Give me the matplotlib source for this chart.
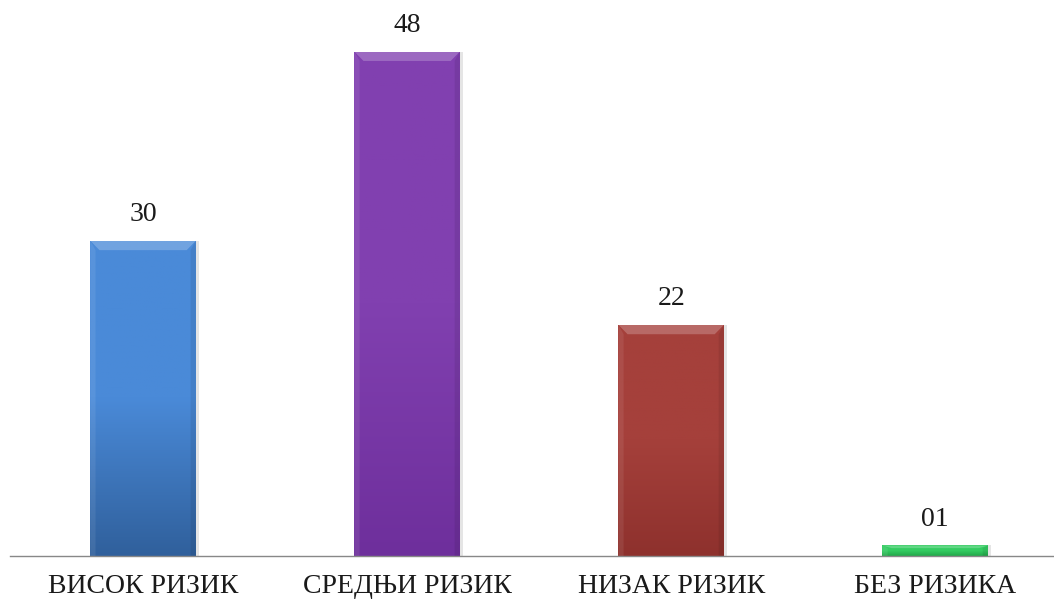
import numpy as np
import matplotlib.pyplot as plt
from matplotlib.colors import LinearSegmentedColormap

categories = ["ВИСОК РИЗИК", "СРЕДЊИ РИЗИК", "НИЗАК РИЗИК", "БЕЗ РИЗИКА"]
values = [30, 48, 22, 1]
value_labels = ["30", "48", "22", "01"]

# light / dark shade of each bar for the vertical gradient
light = ["#4a8ad8", "#8140b0", "#a5403b", "#34cc62"]
dark = ["#30609c", "#6e2f9c", "#8e312d", "#22a84a"]

plt.rcParams["font.family"] = ["Liberation Serif", "DejaVu Serif"]

fig = plt.figure(figsize=(10.54, 5.99), dpi=100)
ax = fig.add_axes([10 / 1054, 43 / 599, 1 - 10 / 1054, 1 - 43 / 599])

x = np.arange(len(categories))
width = 0.40
bars = ax.bar(x, values, width=width, color=light, edgecolor="none", zorder=2)

ax.set_xlim(-0.504, 3.45)
ax.set_ylim(0, 52.9)

# gradient fill clipped to each bar, plus a lighter bevel on top
grad = np.linspace(0, 1, 256).reshape(-1, 1)
for b, c1, c2 in zip(bars, light, dark):
    cmap = LinearSegmentedColormap.from_list("g", [c2, c1, c1])
    x0, y0 = b.get_x(), b.get_y()
    w, h = b.get_width(), b.get_height()
    im = ax.imshow(grad, extent=[x0, x0 + w, y0, y0 + h], origin="lower",
                   cmap=cmap, aspect="auto", zorder=3)
    im.set_clip_path(b)
    # soft shadow to the right
    ax.bar(x0 + w / 2 + 0.012, h, width=w, bottom=0, color="#000000",
           alpha=0.10, zorder=1, edgecolor="none")
    bevel = min(0.9, h * 0.25)
    ax.fill([x0, x0 + w, x0 + w - 0.035, x0 + 0.035],
            [y0 + h, y0 + h, y0 + h - bevel, y0 + h - bevel],
            color="white", alpha=0.22, zorder=4, lw=0)
    ax.fill([x0, x0 + 0.02, x0 + 0.02, x0],
            [y0, y0, y0 + h - bevel, y0 + h],
            color="white", alpha=0.08, zorder=4, lw=0)
    ax.fill([x0 + w, x0 + w - 0.02, x0 + w - 0.02, x0 + w],
            [y0, y0, y0 + h - bevel, y0 + h],
            color="black", alpha=0.08, zorder=4, lw=0)

for xi, v, lab in zip(x, values, value_labels):
    ax.text(xi, v + 1.3, lab, ha="center", va="bottom", fontsize=20,
            color="#1a1a1a")

ax.set_xticks(x)
ax.set_xticklabels(categories, fontsize=20, color="#1a1a1a")
ax.tick_params(axis="x", length=0, pad=13)
ax.set_yticks([])

for s in ["top", "left", "right"]:
    ax.spines[s].set_visible(False)
ax.spines["bottom"].set_color("#888888")
ax.spines["bottom"].set_linewidth(1.0)
ax.spines["bottom"].set_zorder(5)

fig.savefig("out.png", dpi=100)
